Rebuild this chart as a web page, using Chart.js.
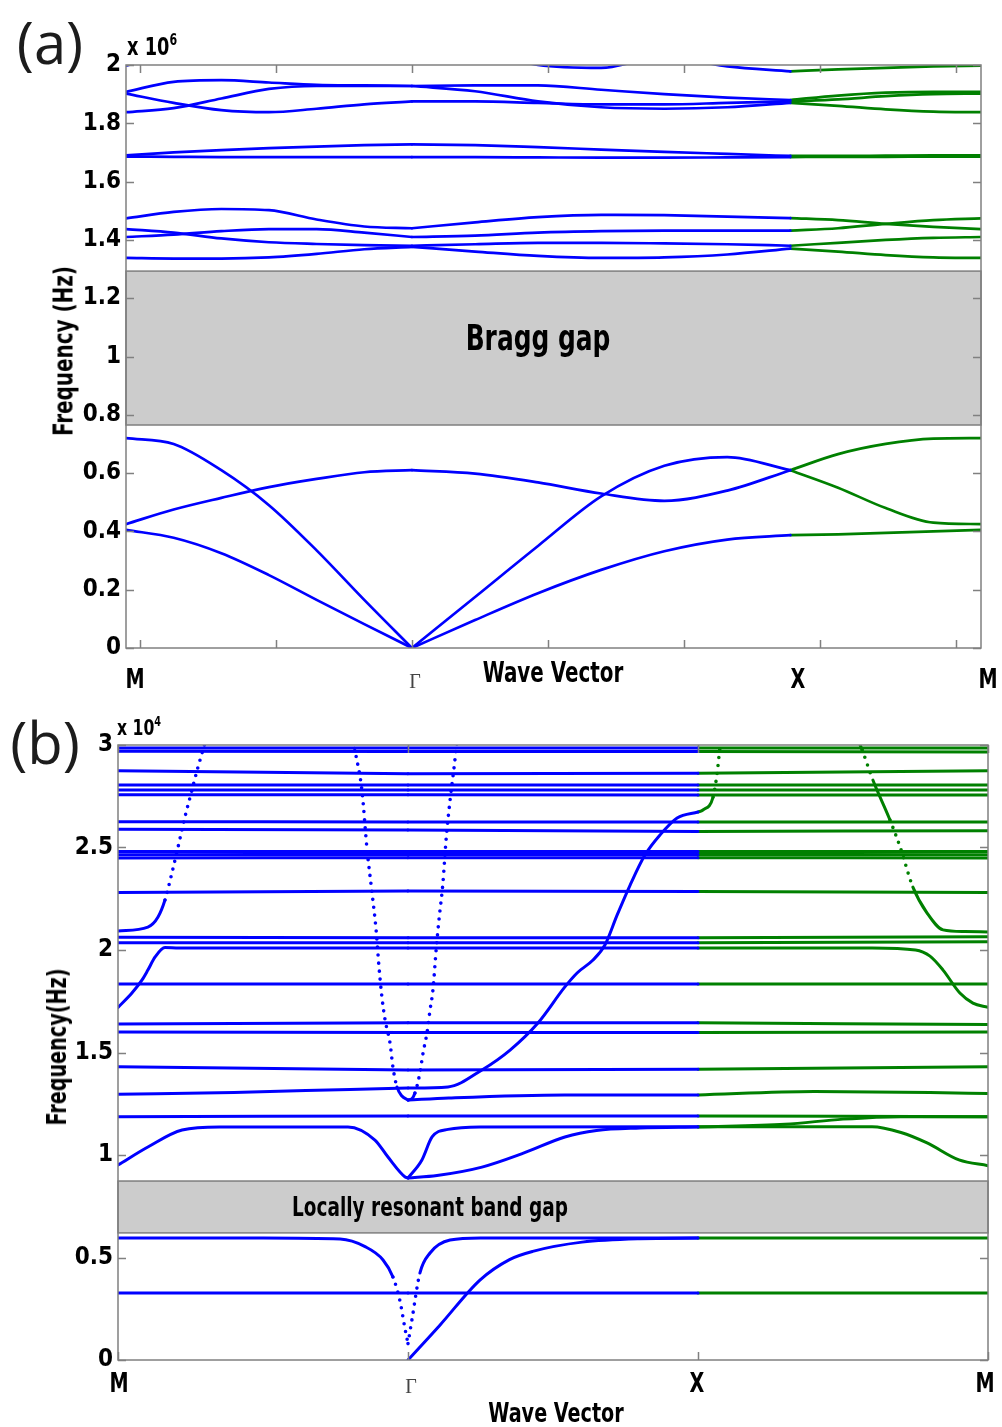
<!DOCTYPE html>
<html>
<head>
<meta charset="utf-8">
<script src="https://cdn.jsdelivr.net/npm/chart.js@4.4.1/dist/chart.umd.min.js"></script>
<style>
  body { margin: 0; background: #fff; }
  #wrap { position: relative; width: 1002px; height: 1427px; overflow: hidden; }
  canvas { position: absolute; left: 0; }
  .t { position: absolute; white-space: nowrap; line-height: 1; color: #000;
       font-family: 'Liberation Sans Narrow', 'DejaVu Sans Condensed', sans-serif; font-weight: bold;
       transform: translate(-50%, -50%) scaleX(0.79); }
  .t.l { transform-origin: 0 50%; transform: translate(0, -50%) scaleX(0.79); }
  .t.v { transform: translate(-50%, -50%) rotate(-90deg) scaleX(0.82); }
  .t sup { font-size: 62%; vertical-align: 0.6em; }
  .pl { font-family: 'Open Sans', sans-serif; font-weight: normal; font-size: 58px; color: #1c1c1c; transform: translate(-50%, -50%); }
  .g { font-family: 'Liberation Serif', serif; font-weight: normal; font-size: 20px; color: #444; transform: translate(-50%, -50%); }
</style>
</head>
<body>
<div id="wrap">
  <canvas id="ca" width="1002" height="700" style="top:0"></canvas>
  <canvas id="cb" width="1002" height="727" style="top:700px"></canvas>

  <div class="t pl" style="left:50px;top:42px">(a)</div>
  <div class="t l" style="left:127px;top:46px;font-size:25px">x 10<sup>6</sup></div>
  <div class="t v" style="left:63px;top:351px;font-size:27px">Frequency (Hz)</div>
  <div class="t" style="left:135px;top:678px;font-size:27px">M</div>
  <div class="t g" style="left:415px;top:681px">Γ</div>
  <div class="t" style="left:553px;top:673px;font-size:28px">Wave Vector</div>
  <div class="t" style="left:798px;top:678px;font-size:27px">X</div>
  <div class="t" style="left:988px;top:678px;font-size:27px">M</div>
  <div class="t" style="left:538px;top:338px;font-size:35px">Bragg gap</div>

  <div class="t pl" style="left:45px;top:742px">(b)</div>
  <div class="t l" style="left:117px;top:727px;font-size:22px">x 10<sup>4</sup></div>
  <div class="t v" style="left:57px;top:1047px;font-size:26px">Frequency(Hz)</div>
  <div class="t" style="left:119px;top:1382px;font-size:27px">M</div>
  <div class="t g" style="left:411px;top:1386px">Γ</div>
  <div class="t" style="left:697px;top:1382px;font-size:27px">X</div>
  <div class="t" style="left:985px;top:1382px;font-size:27px">M</div>
  <div class="t" style="left:556px;top:1412px;font-size:27px">Wave Vector</div>
  <div class="t" style="left:430px;top:1207px;font-size:26px">Locally resonant band gap</div>
</div>
<script>
'use strict';
const FONT = "'Liberation Sans Narrow', 'DejaVu Sans Condensed', sans-serif";
const BLUE = '#0000ff', GREEN = '#008000';

/* panel (a): frequencies x 1e6 Hz, sampled at kA along M-Γ-X-M */
const kA = [0, 0.175, 0.35, 0.525, 0.7, 0.875, 1.05, 1.282, 1.513, 1.745, 1.977, 2.208, 2.44, 2.615, 2.79, 2.965, 3.14];
const nodesA = [0, 1.05, 2.44, 3.14];
const tickXA = [0.05, 0.55, 1.05, 1.55, 2.05, 2.55, 3.05];
const gapA = [0.765, 1.293];
const aBand1 = [0.405, 0.378, 0.325, 0.25, 0.165, 0.082, 0, 0.096, 0.188, 0.268, 0.332, 0.372, 0.387, 0.39, 0.395, 0.4, 0.405];
const aBand2 = [0.425, 0.475, 0.515, 0.552, 0.58, 0.603, 0.61, 0.598, 0.568, 0.53, 0.505, 0.54, 0.61, 0.665, 0.7, 0.718, 0.72];
const aBand3 = [0.72, 0.7, 0.61, 0.49, 0.335, 0.165, 0, 0.175, 0.35, 0.52, 0.625, 0.655, 0.61, 0.55, 0.48, 0.43, 0.425];
const aBand4 = [1.474, 1.496, 1.506, 1.502, 1.47, 1.446, 1.44, 1.46, 1.478, 1.486, 1.485, 1.48, 1.475, 1.468, 1.455, 1.445, 1.437];
const aBand5 = [1.437, 1.425, 1.405, 1.392, 1.386, 1.382, 1.38, 1.385, 1.39, 1.39, 1.388, 1.385, 1.38, 1.39, 1.4, 1.407, 1.41];
const aBand6 = [1.41, 1.418, 1.43, 1.437, 1.437, 1.425, 1.41, 1.415, 1.425, 1.43, 1.432, 1.432, 1.432, 1.44, 1.455, 1.468, 1.474];
const aBand7 = [1.338, 1.336, 1.336, 1.34, 1.352, 1.368, 1.376, 1.36, 1.345, 1.338, 1.34, 1.35, 1.37, 1.36, 1.348, 1.34, 1.338];
const aBand8 = [1.69, 1.7, 1.708, 1.715, 1.72, 1.725, 1.728, 1.725, 1.718, 1.71, 1.702, 1.695, 1.688, 1.688, 1.689, 1.69, 1.69];
const aBand9 = [1.686, 1.685, 1.684, 1.684, 1.684, 1.684, 1.684, 1.684, 1.683, 1.682, 1.682, 1.683, 1.684, 1.685, 1.685, 1.686, 1.686];
const aBand10 = [1.908, 1.942, 1.948, 1.94, 1.932, 1.93, 1.928, 1.93, 1.93, 1.915, 1.9, 1.888, 1.88, 1.895, 1.905, 1.908, 1.908];
const aBand11 = [1.902, 1.87, 1.845, 1.838, 1.85, 1.865, 1.875, 1.875, 1.87, 1.865, 1.865, 1.87, 1.875, 1.882, 1.893, 1.9, 1.902];
const aBand12 = [1.838, 1.852, 1.885, 1.918, 1.928, 1.928, 1.928, 1.91, 1.875, 1.855, 1.85, 1.855, 1.87, 1.86, 1.848, 1.84, 1.838];
const aBand13 = [1.998, 2.04, 2.08, 2.1, 2.1, 2.1, 2.1, 2.07, 2.0, 1.99, 2.03, 1.995, 1.978, 1.985, 1.99, 1.995, 1.998];
const bandsA = [aBand1, aBand2, aBand3, aBand4, aBand5, aBand6, aBand7, aBand8, aBand9, aBand10, aBand11, aBand12, aBand13];

/* panel (b): frequencies x 1e4 Hz, [k, f] with M=0, Γ=1, X=2, M=3 */
const nodesB = [0, 1, 2, 3];
const gapB = [0.62, 0.873];
const flatB = [ // values at M, Γ, X, M
  [0.327, 0.327, 0.327, 0.327], [1.187, 1.19, 1.19, 1.187], [1.43, 1.415, 1.418, 1.43],
  [1.6, 1.598, 1.598, 1.6], [1.639, 1.645, 1.645, 1.636], [1.834, 1.834, 1.834, 1.834],
  [2.062, 2.06, 2.06, 2.065], [2.035, 2.035, 2.035, 2.04], [2.28, 2.288, 2.285, 2.28],
  [2.449, 2.45, 2.45, 2.449], [2.465, 2.466, 2.466, 2.465], [2.48, 2.48, 2.48, 2.48],
  [2.589, 2.585, 2.578, 2.582], [2.626, 2.624, 2.624, 2.624], [2.757, 2.757, 2.756, 2.756],
  [2.78, 2.78, 2.78, 2.78], [2.805, 2.805, 2.805, 2.805], [2.875, 2.86, 2.862, 2.875],
  [2.97, 2.968, 2.968, 2.966], [2.985, 2.985, 2.985, 2.985]
];
const bLow595 = [[0, 0.595], [0.5, 0.595], [0.766, 0.59], [0.852, 0.553], [0.914, 0.488], [0.948, 0.405], [0.972, 0.29], [0.99, 0.15], [1, 0.08], [1.014, 0.2], [1.041, 0.424], [1.076, 0.522], [1.145, 0.585], [1.25, 0.595], [2, 0.595], [3, 0.595]];
const bAcoustic = [[1, 0], [1.11, 0.17], [1.248, 0.39], [1.35, 0.49], [1.43, 0.53], [1.6, 0.575], [1.8, 0.592], [2, 0.595]];
const bDip = [[0, 0.951], [0.103, 1.039], [0.221, 1.122], [0.35, 1.137], [0.793, 1.137], [0.886, 1.073], [0.931, 0.99], [0.99, 0.893], [1, 0.888], [1.048, 0.976], [1.083, 1.088], [1.138, 1.125], [1.25, 1.137], [2, 1.138], [2.6, 1.138], [2.7, 1.11], [2.79, 1.059], [2.9, 0.976], [3, 0.948]];
const bRise = [[1, 0.888], [1.1, 0.9], [1.255, 0.941], [1.4, 1.01], [1.541, 1.088], [1.65, 1.12], [1.8, 1.132], [2, 1.137], [2.3, 1.15], [2.5, 1.175], [2.7, 1.187], [3, 1.187]];
const bFlat129 = [[1, 1.268], [1.14, 1.278], [1.54, 1.293], [2, 1.293], [2.4, 1.31], [2.8, 1.305], [3, 1.3]];
const bBig = [[0, 1.296], [0.4, 1.305], [0.8, 1.32], [1, 1.327], [1.138, 1.332], [1.255, 1.415], [1.352, 1.512], [1.448, 1.644], [1.541, 1.82], [1.583, 1.888], [1.638, 1.951], [1.679, 2.024], [1.721, 2.17], [1.766, 2.317], [1.817, 2.463], [1.869, 2.561], [1.928, 2.644], [2, 2.673], [2.017, 2.683], [2.052, 2.746], [2.066, 2.863], [2.076, 2.99], [2.086, 3.07]];
const bCurve172 = [[0, 1.72], [0.048, 1.79], [0.083, 1.854], [0.103, 1.902], [0.128, 1.966], [0.162, 2.012], [0.21, 2.01], [1, 2.01], [2, 2.01], [2.6, 2.01], [2.75, 2.0], [2.8, 1.97], [2.845, 1.902], [2.903, 1.79], [2.948, 1.741], [3, 1.72]];
const bSteepL = [[0, 2.093], [0.103, 2.112], [0.138, 2.161], [0.162, 2.244], [0.186, 2.376], [0.207, 2.502], [0.231, 2.649], [0.255, 2.78], [0.276, 2.893], [0.293, 2.976], [0.31, 3.06]];
const bSteepR = [[2.541, 3.06], [2.566, 2.976], [2.603, 2.829], [2.662, 2.634], [2.697, 2.502], [2.741, 2.307], [2.79, 2.18], [2.845, 2.098], [2.92, 2.09], [3, 2.088]];
const bVee = [[0.807, 3.06], [0.817, 2.976], [0.841, 2.78], [0.859, 2.488], [0.876, 2.278], [0.89, 2.098], [0.9, 1.917], [0.91, 1.771], [0.921, 1.659], [0.938, 1.546], [0.948, 1.429], [0.962, 1.332], [0.979, 1.288], [1, 1.268], [1.014, 1.275], [1.024, 1.302], [1.041, 1.4], [1.052, 1.498], [1.066, 1.6], [1.076, 1.707], [1.086, 1.805], [1.097, 2.0], [1.107, 2.15], [1.12, 2.32], [1.132, 2.55], [1.145, 2.73], [1.158, 2.88], [1.168, 3.0], [1.175, 3.06]];
const curvesB = [bLow595, bAcoustic, bDip, bRise, bFlat129, bBig, bCurve172, bSteepL, bSteepR, bVee];

/* cut a band at the symmetry points so each piece is its own monotone curve */
function pieces(pts, nodes) {
  const out = []; let cur = [];
  pts.forEach(([x, y], i) => {
    cur.push({ x, y });
    if (i > 0 && i < pts.length - 1 && nodes.includes(x)) { out.push(cur); cur = [{ x, y }]; }
  });
  if (cur.length > 1) out.push(cur);
  return out;
}
function datasets(bands, nodes, xGreen, width, seg) {
  const sets = [];
  bands.forEach(b => pieces(b, nodes).forEach(p => sets.push({
    data: p, borderColor: p[0].x >= xGreen ? GREEN : BLUE, borderWidth: width, borderCapStyle: 'round',
    pointRadius: 0, cubicInterpolationMode: 'monotone', fill: false, segment: seg,
  })));
  return sets;
}
// steep stretches look like separate dots in the original (sparse sampling)
const isSteep = c => Math.abs(c.p1.y - c.p0.y) > 2.6 * Math.abs(c.p1.x - c.p0.x);
const dotted = {
  borderDash: c => isSteep(c) ? [0, 8] : undefined,
  borderWidth: c => isSteep(c) ? 3.6 : undefined,
};

/* caja, marcas hacia dentro y banda prohibida */
const frame = {
  id: 'frame',
  beforeDatasetsDraw(chart, args, o) {
    const { ctx, chartArea: a, scales: { y } } = chart;
    const y0 = y.getPixelForValue(o.gap[0]), y1 = y.getPixelForValue(o.gap[1]);
    ctx.save();
    ctx.fillStyle = '#cccccc';
    ctx.fillRect(a.left, y1, a.right - a.left, y0 - y1);
    ctx.strokeStyle = '#7f7f7f'; ctx.lineWidth = 1.5;
    ctx.strokeRect(a.left, y1, a.right - a.left, y0 - y1);
    ctx.restore();
  },
  afterDatasetsDraw(chart, args, o) {
    const { ctx, chartArea: a, scales: { x, y } } = chart;
    const L = 8;
    ctx.save();
    ctx.strokeStyle = '#808080'; ctx.lineWidth = 1.5;
    ctx.strokeRect(a.left, a.top, a.right - a.left, a.bottom - a.top);
    ctx.beginPath();
    y.ticks.forEach(t => {
      const p = Math.round(y.getPixelForValue(t.value)) + 0.5;
      ctx.moveTo(a.left, p); ctx.lineTo(a.left + L, p);
      ctx.moveTo(a.right, p); ctx.lineTo(a.right - L, p);
    });
    o.xt.forEach(v => {
      const p = Math.round(x.getPixelForValue(v)) + 0.5;
      ctx.moveTo(p, a.bottom); ctx.lineTo(p, a.bottom - L);
      ctx.moveTo(p, a.top); ctx.lineTo(p, a.top + L);
    });
    ctx.stroke();
    ctx.restore();
  },
};

function makeChart(id, o) {
  return new Chart(document.getElementById(id), {
    type: 'line',
    data: { datasets: o.sets },
    options: {
      responsive: false, animation: false, events: [],
      layout: { padding: o.pad },
      plugins: { legend: { display: false }, tooltip: { enabled: false }, frame: { gap: o.gap, xt: o.xt } },
      scales: {
        x: { type: 'linear', min: o.xr[0], max: o.xr[1], ticks: { display: false },
             grid: { display: false }, border: { display: false }, afterFit: s => { s.height = o.xh; } },
        y: { type: 'linear', min: 0, max: o.ymax,
             ticks: { stepSize: o.step, padding: 5, color: '#000', font: { family: FONT, size: 24, weight: 'bold' },
                      callback: v => String(+v.toFixed(1)) },
             grid: { display: false, drawTicks: false }, border: { display: false },
             afterFit: s => { s.width = o.yw; } },
      },
    },
    plugins: [frame],
  });
}

const setsA = datasets(bandsA.map(b => b.map((v, i) => [kA[i], v])), nodesA, nodesA[2], 2.7);
makeChart('ca', { sets: setsA, pad: { top: 65, right: 21, left: 0, bottom: 0 }, xh: 52, yw: 126,
  xr: [0, 3.14], ymax: 2, step: 0.2, gap: gapA, xt: tickXA });

const bandsB = flatB.map(v => v.map((f, i) => [nodesB[i], f])).concat(curvesB);
const setsB = datasets(bandsB, nodesB, nodesB[2], 3, dotted);
makeChart('cb', { sets: setsB, pad: { top: 45, right: 14, left: 0, bottom: 0 }, xh: 67, yw: 118,
  xr: [0, 3], ymax: 3, step: 0.5, gap: gapB, xt: nodesB });
</script>
</body>
</html>
